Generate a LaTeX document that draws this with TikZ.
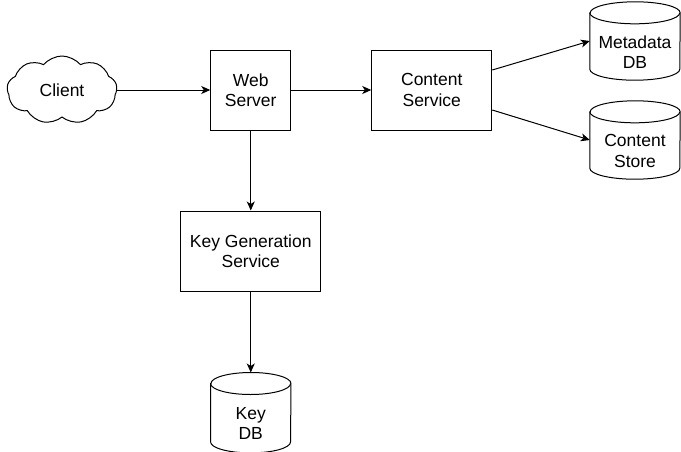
\documentclass[tikz,border=0pt]{standalone}
\usepackage{fontspec}
\setmainfont{Liberation Sans}
\usetikzlibrary{positioning,shapes.symbols,arrows.meta,calc}

\tikzset{
  box/.style={draw, line width=1pt, rectangle, align=center, minimum height=80pt, inner sep=0pt},
  db/.style={rectangle, minimum width=#1, minimum height=78pt, inner sep=0pt},
  dblabel/.style={align=center, yshift=-11pt},
  cloudnode/.style={draw, line width=1pt, cloud, cloud puffs=9, cloud puff arc=100, aspect=1.7,
    minimum width=110pt, minimum height=68pt, inner sep=0pt},
  link/.style={line width=1pt, -{Stealth[length=9pt,width=8pt,inset=2.5pt]}}
}

% outline of a database cylinder round node #1, x radius #2
\newcommand{\drawdb}[2]{%
  \draw[line width=1pt] ([yshift=-11pt]#1.north west) -- ([yshift=11pt]#1.south west)
    arc[start angle=180, end angle=360, x radius=#2, y radius=11pt]
    -- ([yshift=-11pt]#1.north east)
    arc[start angle=0, end angle=180, x radius=#2, y radius=11pt] -- cycle;
  \draw[line width=1pt] ([yshift=-11pt]#1.north west)
    arc[start angle=180, end angle=360, x radius=#2, y radius=11pt];
}

\begin{document}
\begin{tikzpicture}[x=1pt,y=-1pt, font=\fontsize{17.5}{20.5}\selectfont]
\useasboundingbox (0,0) rectangle (681,451);
\node[style=cloudnode](client) at (62,90){Client};
\node[style=box, minimum width=80pt, right=93pt of client](web){Web\\Server};
\node[style=box, minimum width=120pt, right=80pt of web](content){Content\\Service};
\node[style=box, minimum width=140pt, below=80pt of web](keygen){Key Generation\\Service};
\node[style={db=80pt}, minimum height=80pt, below=81pt of keygen,
  label={[dblabel]center:Key\\DB}](keydb){};
\node[style={db=90pt}, label={[dblabel]center:Metadata\\DB}](meta) at (635,41){};
\node[style={db=90pt}, label={[dblabel]center:Content\\Store}](store) at (635,140){};
\drawdb{keydb}{40pt}
\drawdb{meta}{45pt}
\drawdb{store}{45pt}
\draw[link] (client) -- (web);
\draw[link] (web) -- (content);
\draw[link] (web) -- (keygen);
\draw[link] (keygen) -- (keydb);
\draw[link] ($(content.east)+(0,-20)$) -- (meta.west);
\draw[link] ($(content.east)+(0,20)$) -- (store.west);
\end{tikzpicture}
\end{document}
